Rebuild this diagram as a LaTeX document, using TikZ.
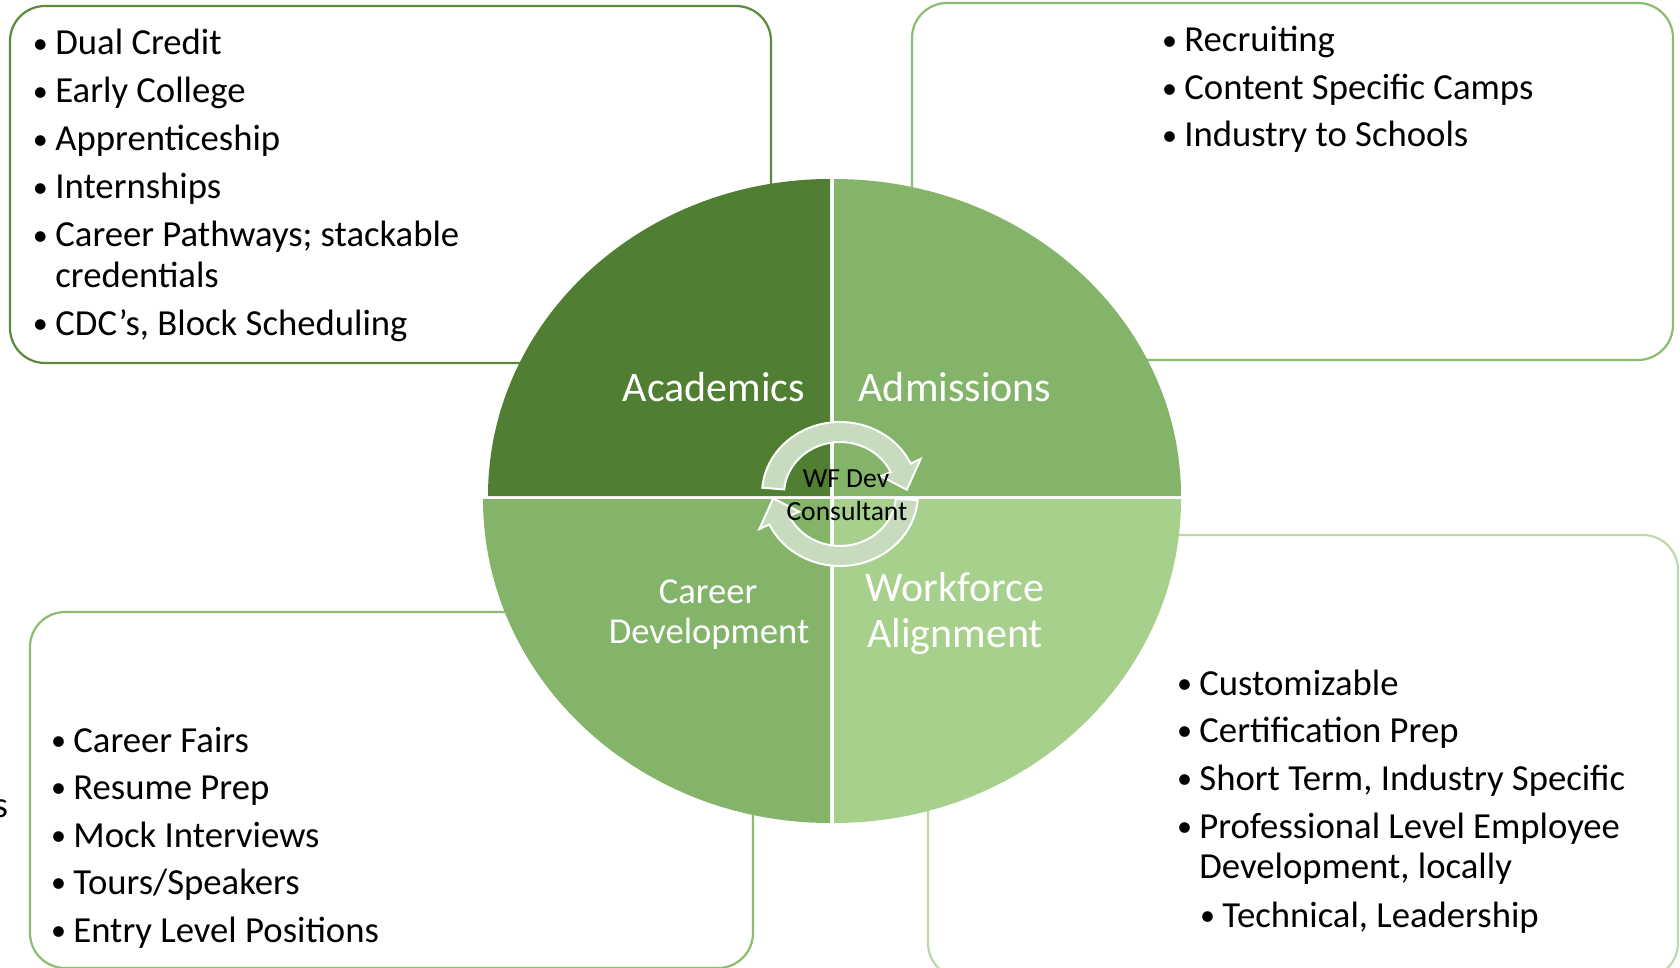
\documentclass[tikz,border=0pt]{standalone}
\usepackage{fontspec}
\setmainfont{Carlito}
\usetikzlibrary{calc}
\definecolor{gDark}{HTML}{507E32}
\definecolor{gMid}{HTML}{84B46A}
\definecolor{gLight}{HTML}{A8D08D}
\definecolor{bDark}{HTML}{5A8A3A}
\definecolor{bMid}{HTML}{8BBD70}
\definecolor{bLight}{HTML}{BCD9AC}
\definecolor{cycFill}{HTML}{C7DBBF}
\newcommand\bmk{\makebox[10pt][l]{\kern-1.2pt\raisebox{0.9pt}{\scalebox{0.82}{•}}}}
\tikzset{
  listbox/.style={line width=1.1pt, rounded corners=17.5pt, fill=white},
  item/.style={anchor=base west, inner sep=0pt, font=\fontsize{18.35pt}{22pt}\selectfont, text=black},
  biglabel/.style={anchor=base, inner sep=0pt, font=\fontsize{21pt}{25pt}\selectfont, text=white},
  midlabel/.style={anchor=base, inner sep=0pt, font=\fontsize{18.3pt}{22pt}\selectfont, text=white},
  centerlabel/.style={anchor=base, inner sep=0pt, font=\fontsize{13.8pt}{16pt}\selectfont, text=black},
  cyc/.style={fill=cycFill, draw=white, line width=1pt, line join=miter},
}
\begin{document}
\begin{tikzpicture}[x=0.5pt,y=-0.5pt]
\useasboundingbox (0,0) rectangle (1680,968);
\clip (0,0) rectangle (1680,968);
\fill[white] (0,0) rectangle (1680,968);

% boxes
\draw[listbox, draw=bDark] (10,6) rectangle (771,363);
\draw[listbox, draw=bMid] (912,3) rectangle (1673,360);
\draw[listbox, draw=bMid] (30,612) rectangle (753,968);
\draw[listbox, draw=bLight] (928,535) rectangle (1678,978);

% quadrants
\fill[gDark] (830,496) -- (488,496) arc[start angle=180, end angle=270, x radius=342, y radius=317] -- cycle;
\fill[gMid] (834,496) -- (834,179) arc[start angle=270, end angle=360, x radius=347, y radius=317] -- cycle;
\fill[gMid] (830,499) -- (830,823) arc[start angle=90, end angle=180, x radius=347, y radius=324] -- cycle;
\fill[gLight] (834,499) -- (1181,499) arc[start angle=0, end angle=90, x radius=347, y radius=324] -- cycle;

% cycle arrows
\coordinate (ac) at (840,494);
\draw[cyc] ($(ac)+(185:56 and 52)$) -- ($(ac)+(185:78 and 72)$)
  arc[start angle=185, end angle=335, x radius=78, y radius=72]
  -- ($(ac)+(335:89 and 83)$) -- ($(ac)+(356:67 and 62)$) -- ($(ac)+(335:45 and 42)$)
  -- ($(ac)+(335:56 and 52)$)
  arc[start angle=335, end angle=185, x radius=56, y radius=52] -- cycle;
\draw[cyc] ($(ac)+(5:56 and 52)$) -- ($(ac)+(5:78 and 72)$)
  arc[start angle=5, end angle=155, x radius=78, y radius=72]
  -- ($(ac)+(155:89 and 83)$) -- ($(ac)+(176:67 and 62)$) -- ($(ac)+(155:45 and 42)$)
  -- ($(ac)+(155:56 and 52)$)
  arc[start angle=155, end angle=5, x radius=56, y radius=52] -- cycle;

% circle labels
\node[biglabel] (acad) at (714,401) {Academics};
\node[biglabel] (adm) at (955,401) {Admissions};
\node[midlabel] (car1) at (708,603) {Career};
\node[midlabel] (car2) at (709,643) {Development};
\node[biglabel] (wf1) at (955,601) {Workforce};
\node[biglabel] (wf2) at (955,647) {Alignment};
\node[centerlabel] (wfd1) at (846,487) {WF Dev};
\node[centerlabel] (wfd2) at (847,520) {Consultant};

% top-left list
\node[item] (tl1) at (35,55) {\bmk Dual Credit};
\node[item] (tl2) at (35,103) {\bmk Early College};
\node[item] (tl3) at (35,151) {\bmk Apprenticeship};
\node[item] (tl4) at (35,199) {\bmk Internships};
\node[item] (tl5) at (35,247) {\bmk Career Pathways; stackable};
\node[item] (tl6) at (55,287) {credentials};
\node[item] (tl7) at (35,335) {\bmk CDC’s, Block Scheduling};

% top-right list
\node[item] (tr1) at (1164,52) {\bmk Recruiting};
\node[item] (tr2) at (1164,100) {\bmk Content Specific Camps};
\node[item] (tr3) at (1164,147) {\bmk Industry to Schools};

% bottom-left list
\node[item] (bl1) at (53,752) {\bmk Career Fairs};
\node[item] (bl2) at (53,799) {\bmk Resume Prep};
\node[item] (bl3) at (53,847) {\bmk Mock Interviews};
\node[item] (bl4) at (53,894) {\bmk Tours/Speakers};
\node[item] (bl5) at (53,942) {\bmk Entry Level Positions};
\node[item, anchor=base east] (cut) at (8.5,817) {s};

% bottom-right list
\node[item] (br1) at (1179,695) {\bmk Customizable};
\node[item] (br2) at (1179,742) {\bmk Certification Prep};
\node[item] (br3) at (1179,790) {\bmk Short Term, Industry Specific};
\node[item] (br4) at (1179,838) {\bmk Professional Level Employee};
\node[item] (br5) at (1199,878) {Development, locally};
\node[item] (br6) at (1202,927) {\bmk Technical, Leadership};
\end{tikzpicture}
\end{document}
